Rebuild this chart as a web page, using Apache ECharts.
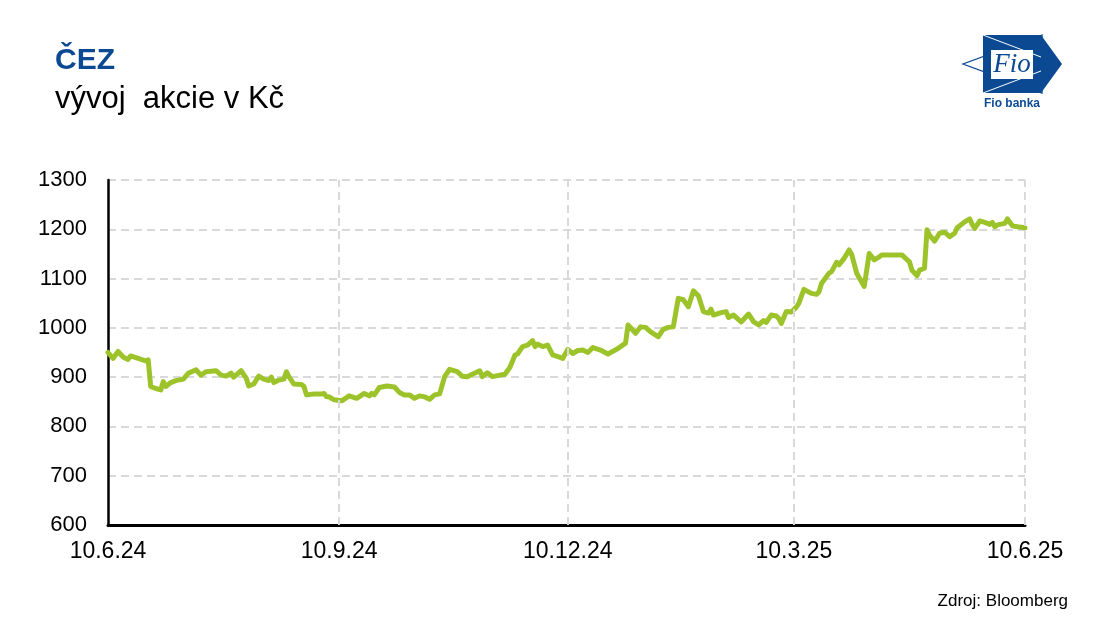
<!DOCTYPE html>
<html>
<head>
<meta charset="utf-8">
<script src="https://cdn.jsdelivr.net/npm/echarts@6/dist/echarts.min.js"></script>
<style>
html,body{margin:0;padding:0;background:#fff;}
#chart{width:1103px;height:642px;}
</style>
</head>
<body>
<div id="chart"></div>
<script>
// Day offsets from 10.6.2024 and closing price in Kč
var dayOffsets = [0,2,4,6,8,9,12,15,16,17,19,21,22,23,25,27,30,32,35,37,39,43,45,47,49,50,53,55,56,58,60,62,64,65,66,68,70,71,72,74,77,78,79,82,85,86,87,88,90,
93,96,99,102,104,105,106,108,111,114,116,118,120,122,124,126,128,130,132,134,136,139,141,143,145,148,149,151,153,156,158,160,162,163,165,167,169,170,171,173,175,177,180,
181,183,185,187,189,191,193,196,199,203,206,207,210,212,214,216,219,221,223,225,227,229,231,233,235,237,239,240,241,244,246,247,249,252,255,257,259,261,262,264,266,267,268,270,272,274,275,277,
280,282,283,284,287,288,290,291,293,295,296,298,301,302,303,305,307,308,310,313,316,319,320,322,323,325,326,327,329,331,333,335,337,338,341,343,344,345,347,349,351,352,353,354,357,358,360,362,365];
var prices = [950,938,952,941,936,943,938,933,935,881,877,874,891,881,889,893,896,908,915,904,911,913,904,902,908,900,913,898,882,886,902,896,893,900,889,894,896,911,901,886,885,881,864,866,866,867,860,860,854,
852,862,857,867,862,867,864,879,882,880,869,864,864,857,862,860,855,864,866,901,916,911,902,901,906,913,901,909,901,904,906,920,945,947,962,965,974,962,967,962,965,945,940,
938,956,948,954,955,950,960,955,947,958,969,1006,989,1002,1001,992,982,997,1001,1002,1060,1057,1043,1075,1065,1033,1030,1038,1026,1031,1033,1021,1026,1012,1028,1012,1006,1015,1011,1026,1024,1019,1009,1033,1032,1042,1050,1078,
1070,1068,1073,1090,1111,1114,1133,1128,1141,1158,1149,1111,1084,1117,1151,1138,1144,1148,1148,1148,1148,1134,1117,1106,1117,1121,1199,1188,1176,1192,1194,1185,1192,1203,1215,1221,1210,1202,1217,1214,1210,1214,1205,1209,1212,1221,1207,1205,1203];

var tickDates = [[2024,5,10],[2024,8,10],[2024,11,10],[2025,2,10],[2025,5,10]];
var tickLabels = ['10.6.24','10.9.24','10.12.24','10.3.25','10.6.25'];
var yTicks = [600,700,800,900,1000,1100,1200,1300];

var start = Date.UTC(2024,5,10);
var tickDays = tickDates.map(function(t){ return Math.round((Date.UTC(t[0],t[1],t[2]) - start)/864e5); });
var seriesData = dayOffsets.map(function(d,i){ return [d, prices[i]]; });

var FONT = '"Liberation Sans", Arial, sans-serif';
var BLUE = '#0b4a93';
var chart = echarts.init(document.getElementById('chart'), null, {renderer:'canvas'});
var gridColor = '#d9d9d9';

chart.setOption({
  animation:false,
  backgroundColor:'#ffffff',
  title:[
    {text:'ČEZ', left:50, top:41, textStyle:{fontFamily:FONT, fontSize:30, fontWeight:'bold', color:BLUE}},
    {text:'vývoj  akcie v Kč', left:50, top:79, textStyle:{fontFamily:FONT, fontSize:31, fontWeight:'normal', color:'#000000'}}
  ],
  grid:{left:108, right:78, top:180, bottom:117, containLabel:false},
  xAxis:{
    type:'value',
    min:tickDays[0], max:tickDays[tickDays.length-1],
    axisLine:{show:true, onZero:false, lineStyle:{color:'#000', width:3}},
    axisTick:{show:false},
    splitLine:{show:false},
    axisLabel:{
      customValues:tickDays,
      showMinLabel:true, showMaxLabel:true,
      margin:15, color:'#000', fontFamily:FONT, fontSize:23,
      formatter:function(v){ var i = tickDays.indexOf(v); return i>=0 ? tickLabels[i] : ''; }
    }
  },
  yAxis:{
    type:'value', min:600, max:1300, interval:100,
    axisLine:{show:true, lineStyle:{color:'#000', width:2.5}},
    axisTick:{show:false},
    splitLine:{show:true, lineStyle:{color:gridColor, width:2, type:[8,5]}},
    axisLabel:{margin:21, color:'#000', fontFamily:FONT, fontSize:22,
      formatter:function(v){ return yTicks.indexOf(v)>=0 ? String(v) : ''; }}
  },
  graphic:[
    {type:'polygon', z:10, shape:{points:[[1042,35],[963,64],[1042,93]]}, style:{fill:'#fff', stroke:BLUE, lineWidth:1.3}},
    {type:'polygon', z:10, shape:{points:[[983,35],[1042,35],[1042,93],[983,93]]}, style:{fill:BLUE}},
    {type:'polygon', z:10, shape:{points:[[1041,35],[1062,64],[1041,93]]}, style:{fill:BLUE}},
    {type:'polyline', z:11, shape:{points:[[983,35],[1041,57]]}, style:{stroke:'#fff', lineWidth:1}},
    {type:'polyline', z:11, shape:{points:[[983,93],[1041,71]]}, style:{stroke:'#fff', lineWidth:1}},
    {type:'rect', z:11, shape:{x:991, y:50, width:42, height:29}, style:{fill:'#fff'}},
    {type:'text', z:12, x:1012, y:65, style:{text:'Fio', fill:BLUE, font:'italic 27px "Liberation Serif", serif', align:'center', verticalAlign:'middle'}},
    {type:'text', z:12, x:1012, y:104, style:{text:'Fio banka', fill:BLUE, font:'bold 12px "Liberation Sans", Arial, sans-serif', align:'center', verticalAlign:'middle'}},
    {type:'text', z:12, right:35, top:593, style:{text:'Zdroj: Bloomberg', fill:'#000', font:'17px "Liberation Sans", Arial, sans-serif'}}
  ],
  series:[
    {
      type:'line', z:1, data:[], silent:true,
      markLine:{silent:true, symbol:'none', label:{show:false},
        lineStyle:{color:gridColor, width:2, type:[8,5]},
        data:tickDays.slice(1).map(function(t){ return {xAxis:t}; })}
    },
    {
      type:'line', z:3, data:seriesData, showSymbol:false, smooth:false,
      lineStyle:{color:'#9dc32b', width:5, join:'round', cap:'round'},
      itemStyle:{color:'#9dc32b'}
    }
  ]
});
</script>
</body>
</html>
